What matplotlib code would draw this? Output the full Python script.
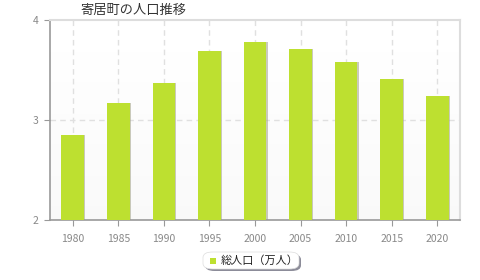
import numpy as np
import matplotlib.pyplot as plt
from matplotlib.patches import FancyBboxPatch

# =========================
# DATA
# =========================
years = ["1980", "1985", "1990", "1995", "2000", "2005", "2010", "2015", "2020"]
population = [2.85, 3.17, 3.37, 3.69, 3.78, 3.71, 3.58, 3.41, 3.24]
y_ticks = [2, 3, 4]

TITLE = "寄居町の人口推移"
LEGEND_LABEL = "総人口（万人）"

plt.rcParams['font.family'] = ['Noto Sans CJK JP', 'DejaVu Sans']

BAR_COLOR = "#bde030"
AXIS_COLOR = "#999999"

# =========================
# FIGURE
# =========================
fig = plt.figure(figsize=(4.8, 2.8), dpi=100)
ax = fig.add_axes([50 / 480, 60 / 280, 410 / 480, 200 / 280])

x = np.arange(len(years))
ax.set_xlim(-0.5, len(years) - 0.5)
ax.set_ylim(2, 4)

# background gradient (white at top, light grey at bottom)
grad = np.linspace(0.975, 1.0, 100).reshape(-1, 1)
ax.imshow(grad, extent=[-0.5, len(years) - 0.5, 2, 4], aspect="auto",
          cmap="gray", vmin=0, vmax=1, origin="lower", zorder=0)

# grid
for xi in x:
    ax.axvline(xi, color="#e0e0e0", lw=1, ls=(0, (4, 3)), zorder=1)
ax.axhline(3, color="#e0e0e0", lw=1, ls=(0, (4, 3)), zorder=1)

# bar shadows + bars
ax.bar(x + 0.025, np.array(population) - 2, bottom=2, width=0.5,
       color="#a8a890", alpha=0.6, zorder=2)
ax.bar(x, np.array(population) - 2, bottom=2, width=0.5,
       color=BAR_COLOR, zorder=3)

# spines
for side in ["top", "right"]:
    ax.spines[side].set_color("#dddddd")
    ax.spines[side].set_linewidth(1.5)
for side in ["left", "bottom"]:
    ax.spines[side].set_color(AXIS_COLOR)
    ax.spines[side].set_linewidth(1.2)

ax.set_xticks(x)
ax.set_xticklabels(years)
ax.set_yticks(y_ticks)
ax.set_yticklabels([str(v) for v in y_ticks])
ax.tick_params(axis="x", colors=AXIS_COLOR, labelcolor="#888888",
               labelsize=7.5, length=4, pad=6)
ax.tick_params(axis="y", colors=AXIS_COLOR, labelcolor="#888888",
               labelsize=7.5, length=4, pad=4)

# title
fig.text(80 / 480, 1 - 10 / 280, TITLE, fontsize=9.5, color="#333333",
         ha="left", va="center")

# legend box with shadow
shadow = FancyBboxPatch((205 / 480, 1 - 271 / 280), 96 / 480, 17 / 280,
                        boxstyle="round,pad=0,rounding_size=0.02",
                        transform=fig.transFigure, facecolor="#707080",
                        edgecolor="none", alpha=0.8)
box = FancyBboxPatch((203 / 480, 1 - 269 / 280), 96 / 480, 17 / 280,
                     boxstyle="round,pad=0,rounding_size=0.02",
                     transform=fig.transFigure, facecolor="white",
                     edgecolor="#dddddd", lw=0.5)
fig.patches.extend([shadow, box])
fig.patches.append(plt.Rectangle((210 / 480, 1 - 264 / 280), 6 / 480, 6 / 280,
                                 transform=fig.transFigure,
                                 facecolor=BAR_COLOR, edgecolor="none"))
fig.text(221 / 480, 1 - 260.5 / 280, LEGEND_LABEL, fontsize=8, color="#222222",
         ha="left", va="center")

fig.savefig("out.png", dpi=100)
